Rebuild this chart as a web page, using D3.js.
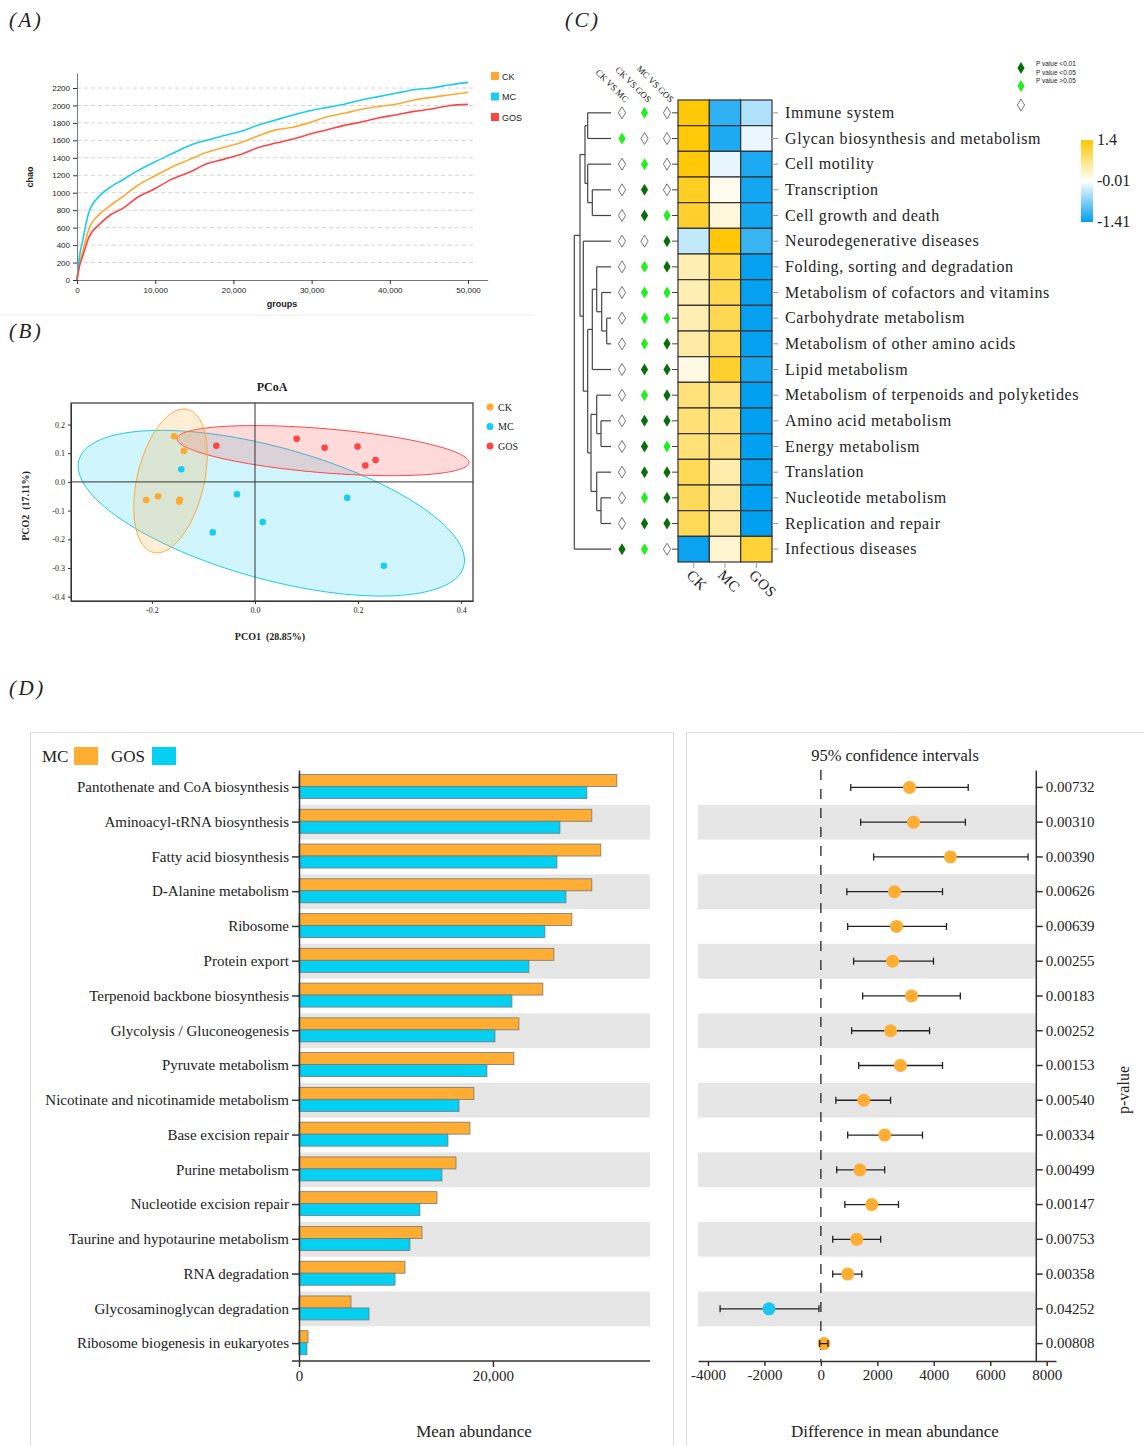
<!DOCTYPE html>
<html>
<head>
<meta charset="utf-8">
<script src="https://cdn.jsdelivr.net/npm/d3@7"></script>
<style>
body { margin: 0; background: #fff; }
svg text { fill: #222; }
</style>
</head>
<body>
<script>
// ---------- (A) rarefaction curves ----------
var rareDepth = [0, 300, 700, 1500, 2900, 4200, 6000, 7700, 10000, 12000, 14500, 16500, 18800, 21000, 23200, 25400, 27600, 29800, 32000, 34300, 36500, 38700, 40900, 43100, 45300, 47500, 50000];
var rareCK  = [0, 190, 320, 580, 755, 850, 965, 1080, 1195, 1290, 1385, 1460, 1520, 1576, 1653, 1720, 1750, 1806, 1870, 1913, 1959, 1990, 2016, 2062, 2093, 2120, 2150];
var rareMC  = [0, 260, 440, 770, 965, 1060, 1155, 1250, 1355, 1440, 1545, 1600, 1655, 1705, 1775, 1833, 1890, 1940, 1978, 2016, 2066, 2104, 2143, 2181, 2200, 2234, 2265];
var rareGOS = [0, 150, 265, 485, 640, 742, 830, 945, 1048, 1150, 1240, 1328, 1385, 1442, 1519, 1569, 1615, 1672, 1722, 1775, 1813, 1860, 1894, 1932, 1959, 1997, 2012];
var groups = ["CK", "MC", "GOS"];
var groupColor = { CK: "#ffa931", MC: "#1accf0", GOS: "#ff4545" };

// ---------- (B) PCoA ----------
var pcoaCK  = [[-0.157, 0.159], [-0.138, 0.108], [-0.211, -0.063], [-0.188, -0.050], [-0.146, -0.062], [-0.147, -0.069]];
var pcoaMC  = [[-0.143, 0.044], [-0.035, -0.043], [0.015, -0.140], [-0.082, -0.176], [0.179, -0.055], [0.250, -0.292]];
var pcoaGOS = [[-0.075, 0.126], [0.081, 0.150], [0.135, 0.119], [0.199, 0.123], [0.234, 0.076], [0.214, 0.057]];
// ellipse centre and two semi-axis vectors, data units
var ellCK  = { c: [-0.164, 0.0035], a: [0.0326, 0.2495], b: [0.0634, -0.0248] };
var ellMC  = { c: [0.0317, -0.109], a: [0.373, -0.187], b: [-0.037, -0.220] };
var ellGOS = { c: [0.132, 0.109],  a: [0.283, -0.042], b: [-0.0038, -0.0765] };

// ---------- (C) KEGG level-2 heatmap ----------
var kegg = ["Immune system", "Glycan biosynthesis and metabolism", "Cell motility", "Transcription",
  "Cell growth and death", "Neurodegenerative diseases", "Folding, sorting and degradation",
  "Metabolism of cofactors and vitamins", "Carbohydrate metabolism", "Metabolism of other amino acids",
  "Lipid metabolism", "Metabolism of terpenoids and polyketides", "Amino acid metabolism",
  "Energy metabolism", "Translation", "Nucleotide metabolism", "Replication and repair", "Infectious diseases"];
var heatCK  = [1.35, 1.35, 1.35, 1.2, 1.15, -0.35, 0.42, 0.42, 0.42, 0.48, 0.15, 0.72, 0.75, 0.74, 0.92, 0.9, 0.92, -1.35];
var heatMC  = [-1.15, -1.25, -0.15, 0.08, 0.2, 1.38, 0.98, 0.95, 0.95, 0.92, 1.15, 0.7, 0.68, 0.68, 0.45, 0.5, 0.5, 0.25];
var heatGOS = [-0.45, -0.12, -1.25, -1.3, -1.3, -1.1, -1.38, -1.38, -1.38, -1.38, -1.3, -1.4, -1.4, -1.4, -1.38, -1.4, -1.4, 1.1];
var comps = ["CK VS MC", "CK VS GOS", "MC VS GOS"];
// 0: p > 0.05, 1: p < 0.05, 2: p < 0.01
var sigCKvsMC  = [0, 1, 0, 0, 0, 0, 0, 0, 0, 0, 0, 0, 0, 0, 0, 0, 0, 2];
var sigCKvsGOS = [1, 0, 1, 2, 2, 0, 1, 1, 1, 1, 2, 1, 2, 2, 2, 1, 2, 1];
var sigMCvsGOS = [0, 0, 0, 0, 1, 2, 2, 1, 1, 2, 2, 2, 2, 1, 2, 2, 2, 0];
var sigLabels = ["P value <0.01", "P value <0.05", "P value >0.05"];
var heatTicks = [1.4, -0.01, -1.41];
// row clustering: leaves are row indexes, h = merge height
var dendro = { h: 36.7, c: [
  { h: 31, c: [
    { h: 26, c: [ { h: 23.3, c: [0, 1] }, { h: 23.3, c: [2, { h: 18.7, c: [3, 4] }] } ] },
    { h: 27.7, c: [5, { h: 23.3, c: [
      { h: 18.7, c: [ { h: 14.3, c: [6, { h: 9.3, c: [7, { h: 4.3, c: [8, 9] }] }] }, 10 ] },
      { h: 20, c: [ { h: 14.3, c: [11, { h: 10, c: [12, 13] }] }, { h: 14.3, c: [14, { h: 10, c: [15, 16] }] } ] }
    ] }] }
  ] },
  17
] };

// ---------- (D) STAMP ----------
var pathways = ["Pantothenate and CoA biosynthesis", "Aminoacyl-tRNA biosynthesis", "Fatty acid biosynthesis",
  "D-Alanine metabolism", "Ribosome", "Protein export", "Terpenoid backbone biosynthesis",
  "Glycolysis / Gluconeogenesis", "Pyruvate metabolism", "Nicotinate and nicotinamide metabolism",
  "Base excision repair", "Purine metabolism", "Nucleotide excision repair", "Taurine and hypotaurine metabolism",
  "RNA degradation", "Glycosaminoglycan degradation", "Ribosome biogenesis in eukaryotes"];
var meanMC  = [32780, 30200, 31130, 30200, 28140, 26290, 25150, 22680, 22160, 18040, 17630, 16190, 14230, 12680, 10930, 5360, 930];
var meanGOS = [29690, 26910, 26600, 27530, 25360, 23710, 21960, 20210, 19380, 16500, 15360, 14740, 12470, 11440, 9900, 7220, 820];
var diffMean = [3140, 3280, 4590, 2610, 2680, 2540, 3210, 2470, 2820, 1520, 2260, 1380, 1800, 1270, 950, -1840, 110];
var ciLow  = [1060, 1410, 1870, 920, 950, 1160, 1480, 1090, 1340, 530, 950, 560, 850, 420, 420, -3570, -40];
var ciHigh = [5220, 5120, 7340, 4310, 4450, 3990, 4940, 3850, 4310, 2470, 3600, 2260, 2750, 2120, 1450, -70, 250];
var pValues = ["0.00732", "0.00310", "0.00390", "0.00626", "0.00639", "0.00255", "0.00183", "0.00252", "0.00153",
  "0.00540", "0.00334", "0.00499", "0.00147", "0.00753", "0.00358", "0.04252", "0.00808"];
var barColor = { MC: "#ffad33", GOS: "#04d0f2" };

var serif = '"Liberation Serif","Times New Roman",serif';
var sans = '"Liberation Sans",Arial,sans-serif';
var hyphen = function(f) { return function(d) { return f(d).replace("\u2212", "-"); }; };

var svg = d3.select("body").append("svg")
    .attr("width", 1144)
    .attr("height", 1446);

function panelLabel(t, x, y) {
  svg.append("text").attr("x", x).attr("y", y).text(t)
    .attr("font-family", serif).attr("font-style", "italic").attr("font-size", 21)
    .attr("letter-spacing", 2.5);
}
panelLabel("(A)", 9, 27);
panelLabel("(B)", 9, 338);
panelLabel("(C)", 565, 27);
panelLabel("(D)", 9, 695);

function styleAxis(g, family, size) {
  g.selectAll("path, line").attr("stroke", "#333");
  g.selectAll("text").attr("font-family", family).attr("font-size", size).attr("fill", "#222");
}

// ===== (A) =====
var xA = d3.scaleLinear().domain([0, 52500]).range([77, 487.6]);
var yA = d3.scaleLinear().domain([0, 2372]).range([280, 73]);
var gA = svg.append("g");
gA.selectAll("line.grid").data(d3.range(200, 2201, 200)).enter().append("line")
    .attr("x1", xA(0)).attr("x2", xA(51000))
    .attr("y1", function(d) { return yA(d); }).attr("y2", function(d) { return yA(d); })
    .attr("stroke", "#d4d4d4").attr("stroke-dasharray", "4,3");
var axA = gA.append("g").attr("transform", "translate(0," + yA(0) + ")")
    .call(d3.axisBottom(xA).tickValues(d3.range(0, 50001, 10000)).tickFormat(d3.format(",")).tickSize(4).tickSizeOuter(0));
styleAxis(axA, sans, 8);
axA.select("path").attr("stroke", "#777");
var ayA = gA.append("g").attr("transform", "translate(" + xA(0) + ",0)")
    .call(d3.axisLeft(yA).tickValues(d3.range(0, 2201, 200)).tickFormat(d3.format("d")).tickSize(4).tickSizeOuter(0));
styleAxis(ayA, sans, 8);
ayA.select("path").attr("stroke", "#777");

var rare = { CK: rareCK, MC: rareMC, GOS: rareGOS };
var lineA = d3.line()
    .x(function(d, i) { return xA(rareDepth[i]); })
    .y(function(d) { return yA(d); })
    .curve(d3.curveMonotoneX);
groups.forEach(function(g) {
  gA.append("path").datum(rare[g]).attr("d", lineA)
    .attr("fill", "none").attr("stroke", groupColor[g]).attr("stroke-width", 1.6);
});
groups.forEach(function(g, i) {
  gA.append("rect").attr("x", 491).attr("y", 72 + i * 20.5).attr("width", 8).attr("height", 8).attr("fill", groupColor[g]);
  gA.append("text").attr("x", 502).attr("y", 79.5 + i * 20.5).text(g)
    .attr("font-family", sans).attr("font-size", 9);
});
gA.append("text").attr("transform", "translate(33,177) rotate(-90)").attr("text-anchor", "middle")
  .text("chao").attr("font-family", sans).attr("font-size", 9).attr("font-weight", "bold");
gA.append("text").attr("x", 282).attr("y", 307).attr("text-anchor", "middle")
  .text("groups").attr("font-family", sans).attr("font-size", 9).attr("font-weight", "bold");
svg.append("line").attr("x1", 0).attr("x2", 535).attr("y1", 315).attr("y2", 315).attr("stroke", "#eee");

// ===== (B) =====
var xB = d3.scaleLinear().domain([-0.357, 0.423]).range([71, 473]);
var yB = d3.scaleLinear().domain([-0.415, 0.275]).range([601, 403]);
var gB = svg.append("g");
var pcoa = { CK: pcoaCK, MC: pcoaMC, GOS: pcoaGOS };
var ell = { CK: ellCK, MC: ellMC, GOS: ellGOS };
var ellLine = d3.line().x(function(d) { return xB(d[0]); }).y(function(d) { return yB(d[1]); }).curve(d3.curveLinearClosed);
["MC", "GOS", "CK"].forEach(function(g) {
  var e = ell[g];
  var pts = d3.range(0, 2 * Math.PI, Math.PI / 90).map(function(t) {
    return [e.c[0] + e.a[0] * Math.cos(t) + e.b[0] * Math.sin(t),
            e.c[1] + e.a[1] * Math.cos(t) + e.b[1] * Math.sin(t)];
  });
  gB.append("path").attr("d", ellLine(pts))
    .attr("fill", groupColor[g]).attr("fill-opacity", 0.2)
    .attr("stroke", groupColor[g]).attr("stroke-width", 1);
});
gB.append("line").attr("x1", xB(0)).attr("x2", xB(0)).attr("y1", yB(0.275)).attr("y2", yB(-0.415)).attr("stroke", "#333");
gB.append("line").attr("x1", xB(-0.357)).attr("x2", xB(0.423)).attr("y1", yB(0)).attr("y2", yB(0)).attr("stroke", "#333");
groups.forEach(function(g) {
  gB.selectAll("circle." + g).data(pcoa[g]).enter().append("circle")
    .attr("cx", function(d) { return xB(d[0]); }).attr("cy", function(d) { return yB(d[1]); })
    .attr("r", 3.3).attr("fill", groupColor[g]);
});
gB.append("rect").attr("x", xB(-0.357)).attr("y", yB(0.275))
  .attr("width", xB(0.423) - xB(-0.357)).attr("height", yB(-0.415) - yB(0.275))
  .attr("fill", "none").attr("stroke", "#333").attr("stroke-width", 1.2);
var axB = gB.append("g").attr("transform", "translate(0," + yB(-0.415) + ")")
  .call(d3.axisBottom(xB).tickValues([-0.2, 0, 0.2, 0.4]).tickFormat(hyphen(d3.format(".1f"))).tickSize(3).tickSizeOuter(0));
styleAxis(axB, serif, 8);
var ayB = gB.append("g").attr("transform", "translate(" + xB(-0.357) + ",0)")
  .call(d3.axisLeft(yB).tickValues([-0.4, -0.3, -0.2, -0.1, 0, 0.1, 0.2]).tickFormat(hyphen(d3.format(".1f"))).tickSize(3).tickSizeOuter(0));
styleAxis(ayB, serif, 8);
gB.append("text").attr("x", 272).attr("y", 391).attr("text-anchor", "middle").text("PCoA")
  .attr("font-family", serif).attr("font-size", 12).attr("font-weight", "bold");
gB.append("text").attr("x", 270).attr("y", 640).attr("text-anchor", "middle").text("PCO1\u00a0\u00a0(28.85%)")
  .attr("font-family", serif).attr("font-size", 10).attr("font-weight", "bold");
gB.append("text").attr("transform", "translate(29,506) rotate(-90)").attr("text-anchor", "middle").text("PCO2\u00a0\u00a0(17.11%)")
  .attr("font-family", serif).attr("font-size", 10).attr("font-weight", "bold");
groups.forEach(function(g, i) {
  gB.append("circle").attr("cx", 490).attr("cy", 407 + i * 19.5).attr("r", 3.5).attr("fill", groupColor[g]);
  gB.append("text").attr("x", 498).attr("y", 410.5 + i * 19.5).text(g).attr("font-family", serif).attr("font-size", 10);
});

// ===== (C) =====
var yC = d3.scaleBand().domain(kegg).range([100, 562]);
var xC = d3.scaleBand().domain(groups).range([678, 772]);
var xS = d3.scalePoint().domain(comps).range([622, 667]);
var colorC = d3.scaleLinear().domain([-1.41, -0.01, 1.4]).range(["#009ff0", "#ffffff", "#ffc600"]);
var heat = { CK: heatCK, MC: heatMC, GOS: heatGOS };
var sig = [sigCKvsMC, sigCKvsGOS, sigMCvsGOS];
var sigFill = ["#0a6e0a", "#22ee22", "#fff"];
var gC = svg.append("g");
var rowY = function(i) { return yC(kegg[i]) + yC.bandwidth() / 2; };

groups.forEach(function(g) {
  gC.selectAll("rect.h" + g).data(heat[g]).enter().append("rect")
    .attr("x", xC(g)).attr("y", function(d, i) { return yC(kegg[i]); })
    .attr("width", xC.bandwidth()).attr("height", yC.bandwidth())
    .attr("fill", function(d) { return colorC(d); })
    .attr("stroke", "#333").attr("stroke-width", 1.2);
});
// row ticks left/right, column ticks below
kegg.forEach(function(k, i) {
  gC.append("line").attr("x1", 672).attr("x2", 678).attr("y1", rowY(i)).attr("y2", rowY(i)).attr("stroke", "#444");
  gC.append("line").attr("x1", 772).attr("x2", 778).attr("y1", rowY(i)).attr("y2", rowY(i)).attr("stroke", "#999");
  gC.append("text").attr("x", 785).attr("y", rowY(i) + 5).text(k)
    .attr("font-family", serif).attr("font-size", 16).attr("letter-spacing", 0.62);
});
groups.forEach(function(g) {
  var cx = xC(g) + xC.bandwidth() / 2;
  gC.append("line").attr("x1", cx).attr("x2", cx).attr("y1", 562).attr("y2", 568).attr("stroke", "#999");
  gC.append("text").attr("transform", "translate(" + (cx - 8) + ",576) rotate(45)").text(g)
    .attr("font-family", serif).attr("font-size", 15).attr("letter-spacing", 0.5);
});
// significance diamonds
var diamond = "M0,-6L3.6,0L0,6L-3.6,0Z";
comps.forEach(function(c, j) {
  gC.selectAll("path.s" + j).data(sig[j]).enter().append("path")
    .attr("d", diamond)
    .attr("transform", function(d, i) { return "translate(" + xS(c) + "," + rowY(i) + ")"; })
    .attr("fill", function(d) { return sigFill[2 - d]; })
    .attr("stroke", function(d) { return d === 0 ? "#666" : "none"; })
    .attr("stroke-width", 0.9);
  gC.append("text").attr("transform", "translate(" + (xS(c) + 3) + ",103) rotate(45)")
    .attr("text-anchor", "end").text(c).attr("font-family", serif).attr("font-size", 9).attr("fill", "#333");
});
// dendrogram
var xDen = d3.scaleLinear().domain([0, 36.7]).range([611, 574.3]);
function toNode(n) { return typeof n === "number" ? { leaf: n, h: 0 } : { h: n.h, children: n.c.map(toNode) }; }
var root = d3.hierarchy(toNode(dendro));
root.eachAfter(function(n) {
  n.yy = n.children ? (n.children[0].yy + n.children[1].yy) / 2 : rowY(n.data.leaf);
});
root.each(function(n) {
  if (!n.children) return;
  var x = xDen(n.data.h);
  gC.append("line").attr("x1", x).attr("x2", x).attr("y1", n.children[0].yy).attr("y2", n.children[1].yy)
    .attr("stroke", "#444").attr("stroke-width", 1.2);
  n.children.forEach(function(ch) {
    gC.append("line").attr("x1", x).attr("x2", xDen(ch.data.h)).attr("y1", ch.yy).attr("y2", ch.yy)
      .attr("stroke", "#444").attr("stroke-width", 1.2);
  });
});
// colour legend
var legY = d3.scaleLinear().domain([-1.41, 1.4]).range([222, 140]);
var grad = svg.append("defs").append("linearGradient").attr("id", "heatGrad")
  .attr("x1", 0).attr("x2", 0).attr("y1", 1).attr("y2", 0);
colorC.domain().forEach(function(v) {
  grad.append("stop").attr("offset", (v + 1.41) / 2.81).attr("stop-color", colorC(v));
});
gC.append("rect").attr("x", 1081).attr("y", legY(1.4)).attr("width", 12).attr("height", legY(-1.41) - legY(1.4))
  .attr("fill", "url(#heatGrad)");
heatTicks.forEach(function(v) {
  gC.append("text").attr("x", 1097).attr("y", legY(v) + 5).text(v)
    .attr("font-family", serif).attr("font-size", 16);
});
[2, 1, 0].forEach(function(s, i) {
  gC.append("path").attr("d", diamond).attr("transform", "translate(1021," + [68, 86, 105][i] + ")")
    .attr("fill", sigFill[2 - s]).attr("stroke", s === 0 ? "#666" : "none").attr("stroke-width", 0.9);
  gC.append("text").attr("x", 1036).attr("y", 66 + i * 8.6).text(sigLabels[i])
    .attr("font-family", sans).attr("font-size", 6.5).attr("fill", "#444");
});

// ===== (D) =====
var gD = svg.append("g");
gD.append("rect").attr("x", 30.5).attr("y", 732.5).attr("width", 643).attr("height", 760).attr("fill", "none").attr("stroke", "#ddd");
gD.append("rect").attr("x", 686.5).attr("y", 732.5).attr("width", 500).attr("height", 760).attr("fill", "none").attr("stroke", "#ddd");

var yD = d3.scaleBand().domain(pathways).range([770, 1361]);
var subD = d3.scaleBand().domain(["MC", "GOS"]).range([4.5, 28.5]);
var xBar = d3.scaleLinear().domain([0, 36200]).range([299, 650]);
var xCI = d3.scaleLinear().domain([-4353, 8330]).range([698, 1056]);
var ciRight = 7614;

// alternating bands
pathways.forEach(function(p, i) {
  if (i % 2 === 0) return;
  gD.append("rect").attr("x", xBar(0)).attr("y", yD(p)).attr("width", xBar(36200) - xBar(0)).attr("height", yD.bandwidth()).attr("fill", "#e6e6e6");
  gD.append("rect").attr("x", xCI(-4353)).attr("y", yD(p)).attr("width", xCI(ciRight) - xCI(-4353)).attr("height", yD.bandwidth()).attr("fill", "#e6e6e6");
});

var means = { MC: meanMC, GOS: meanGOS };
["MC", "GOS"].forEach(function(g) {
  gD.selectAll("rect.b" + g).data(means[g]).enter().append("rect")
    .attr("x", xBar(0)).attr("y", function(d, i) { return yD(pathways[i]) + subD(g); })
    .attr("width", function(d) { return xBar(d) - xBar(0); }).attr("height", subD.bandwidth())
    .attr("fill", barColor[g]).attr("stroke", "#777").attr("stroke-width", 0.8);
});
var ayD = gD.append("g").attr("transform", "translate(" + xBar(0) + ",0)")
  .call(d3.axisLeft(yD).tickSize(7).tickSizeOuter(0));
styleAxis(ayD, serif, 15);
ayD.selectAll("path, line").attr("stroke-width", 1.5);
var axD = gD.append("g").attr("transform", "translate(0," + yD.range()[1] + ")")
  .call(d3.axisBottom(xBar).tickValues([0, 20000]).tickFormat(d3.format(",")).tickSize(6).tickSizeOuter(0));
styleAxis(axD, serif, 15);
axD.selectAll("path, line").attr("stroke-width", 1.5);
axD.select("path").attr("d", "M" + (xBar(0) - 7) + ",0H" + xBar(36200));

gD.append("text").attr("x", 42).attr("y", 762).text("MC").attr("font-family", serif).attr("font-size", 17);
gD.append("rect").attr("x", 74).attr("y", 747).attr("width", 24).attr("height", 18).attr("fill", barColor.MC);
gD.append("text").attr("x", 111).attr("y", 762).text("GOS").attr("font-family", serif).attr("font-size", 17);
gD.append("rect").attr("x", 152).attr("y", 747).attr("width", 24).attr("height", 18).attr("fill", barColor.GOS);
gD.append("text").attr("x", 474).attr("y", 1437).attr("text-anchor", "middle").text("Mean abundance")
  .attr("font-family", serif).attr("font-size", 17);

// confidence intervals
gD.append("line").attr("x1", xCI(0)).attr("x2", xCI(0)).attr("y1", yD.range()[0]).attr("y2", yD.range()[1])
  .attr("stroke", "#333").attr("stroke-width", 1.4).attr("stroke-dasharray", "10,9");
pathways.forEach(function(p, i) {
  var cy = yD(p) + yD.bandwidth() / 2;
  gD.append("line").attr("x1", xCI(ciLow[i])).attr("x2", xCI(ciHigh[i])).attr("y1", cy).attr("y2", cy).attr("stroke", "#222").attr("stroke-width", 1.3);
  gD.append("circle").attr("cx", xCI(diffMean[i])).attr("cy", cy).attr("r", 6.5)
    .attr("fill", diffMean[i] >= 0 ? barColor.MC : "#1cc6ee");
  [ciLow[i], ciHigh[i]].forEach(function(v) {
    gD.append("line").attr("x1", xCI(v)).attr("x2", xCI(v)).attr("y1", cy - 3.5).attr("y2", cy + 3.5).attr("stroke", "#222").attr("stroke-width", 1.3);
  });
  if (ciHigh[i] - ciLow[i] < 600) {
    gD.append("line").attr("x1", xCI(ciLow[i])).attr("x2", xCI(ciHigh[i])).attr("y1", cy).attr("y2", cy).attr("stroke", "#222").attr("stroke-width", 1.3);
  }
});
var ayR = gD.append("g").attr("transform", "translate(" + xCI(ciRight) + ",0)")
  .call(d3.axisRight(yD).tickSize(7).tickSizeOuter(0).tickFormat(function(d) { return pValues[pathways.indexOf(d)]; }));
styleAxis(ayR, serif, 15);
ayR.selectAll("path, line").attr("stroke-width", 1.5);
var axR = gD.append("g").attr("transform", "translate(0," + yD.range()[1] + ")")
  .call(d3.axisBottom(xCI).tickValues(d3.range(-4000, 8001, 2000)).tickFormat(hyphen(d3.format("d"))).tickSize(5).tickSizeOuter(0));
styleAxis(axR, serif, 15);
axR.selectAll("path, line").attr("stroke-width", 1.5);
gD.append("text").attr("x", 895).attr("y", 761).attr("text-anchor", "middle").text("95% confidence intervals")
  .attr("font-family", serif).attr("font-size", 16.5);
gD.append("text").attr("x", 895).attr("y", 1437).attr("text-anchor", "middle").text("Difference in mean abundance")
  .attr("font-family", serif).attr("font-size", 17);
gD.append("text").attr("transform", "translate(1129,1090) rotate(-90)").attr("text-anchor", "middle").text("p-value")
  .attr("font-family", serif).attr("font-size", 16);
</script>
</body>
</html>
